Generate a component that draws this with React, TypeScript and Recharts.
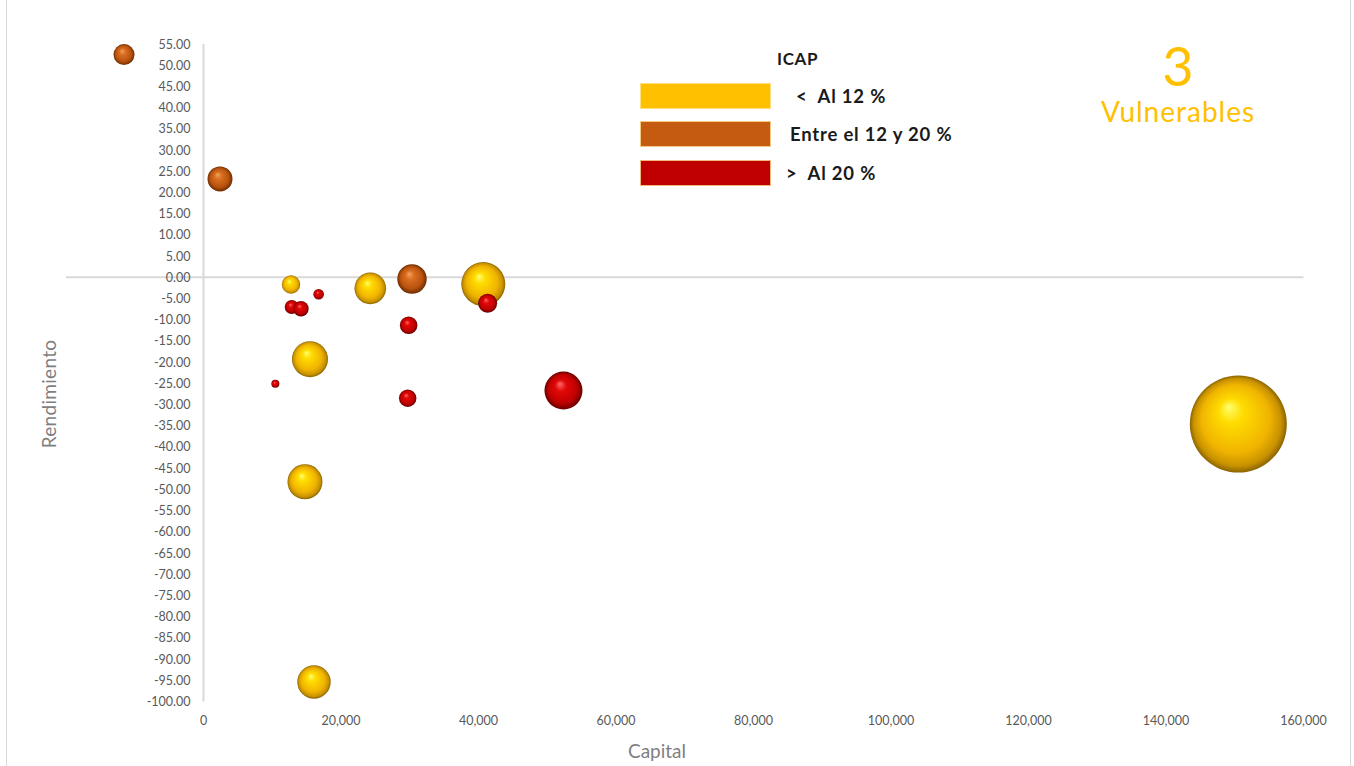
import React from 'react'
import { ScatterChart, Scatter, XAxis, YAxis, ZAxis, ReferenceLine } from 'recharts'

// Capital / Rendimiento / tamaño de burbuja por grupo ICAP
const bajoCapital = [12730, 15490, 24260, 40700, 14760, 16070, 150520]
const bajoRend = [-1.7, -19.3, -2.6, -1.6, -48.2, -95.4, -34.6]
const bajoSize = [85, 324, 250, 484, 306, 279, 2352]

const medioCapital = [-11560, 2400, 30330]
const medioRend = [52.5, 23.2, -0.4]
const medioSize = [110, 156, 216]

const altoCapital = [12830, 14180, 16750, 10450, 29840, 29700, 41330, 52360]
const altoRend = [-7.0, -7.4, -4.0, -25.1, -11.3, -28.5, -6.1, -26.7]
const altoSize = [49, 59, 28, 16, 77, 76, 90, 361]

const xTicks = [-20000, 0, 20000, 40000, 60000, 80000, 100000, 120000, 140000, 160000]
const yTicks = Array.from({ length: 32 }, (_, i) => 55 - i * 5)

const legendItems = [
  { label: '<  Al 12 %', color: '#FFC000', indent: 25 },
  { label: 'Entre el 12 y 20 %', color: '#C55A11', indent: 19 },
  { label: '>  Al 20 %', color: '#C00000', indent: 15 },
]

const build = (xs: number[], ys: number[], zs: number[]) =>
  xs.map((x, i) => ({ capital: x, rendimiento: ys[i], size: zs[i] }))

const W = 1354
const H = 766
const M = { top: 44, right: 50.5, bottom: 34.5, left: 65 }
const X_MIN = -20000
const X_MAX = 160000
// y axis crosses at capital = 0
const ZERO_X = M.left + 1 + ((0 - X_MIN) / (X_MAX - X_MIN)) * (W - M.left - 1 - M.right)

const FONT = 'Lato, "Open Sans", sans-serif'

const sphere = (id: string) => (props: any) => (
  <circle cx={props.cx} cy={props.cy} r={props.width / 2} fill={`url(#${id})`} />
)

const YTick = ({ y, payload }: any) => (
  <text x={ZERO_X - 13} y={y} textAnchor="end" dominantBaseline="central"
    fontSize={12.5} fill="#595959" fontFamily={FONT}>
    {payload.value.toFixed(2)}
  </text>
)

export default function App() {
  return (
    <div style={{ position: 'absolute', left: 0, top: 0, width: W, height: H, background: '#fff', fontFamily: FONT }}>
      <div style={{ position: 'absolute', left: 6, top: 0, width: 1343, height: H, borderLeft: '1px solid #d9d9d9', borderRight: '1px solid #d9d9d9' }} />
      <ScatterChart width={W} height={H} margin={M}>
        <defs>
          <radialGradient id="sph-y" cx="50%" cy="50%" r="50%" fx="40%" fy="32%">
            <stop offset="0%" stopColor="#FFFF70" />
            <stop offset="25%" stopColor="#FFDC00" />
            <stop offset="70%" stopColor="#F0B400" />
            <stop offset="90%" stopColor="#C89200" />
            <stop offset="100%" stopColor="#8A6400" />
          </radialGradient>
          <radialGradient id="sph-o" cx="50%" cy="50%" r="50%" fx="40%" fy="32%">
            <stop offset="0%" stopColor="#F8A060" />
            <stop offset="30%" stopColor="#D86E20" />
            <stop offset="75%" stopColor="#B8520E" />
            <stop offset="100%" stopColor="#6E2C00" />
          </radialGradient>
          <radialGradient id="sph-r" cx="50%" cy="50%" r="50%" fx="40%" fy="32%">
            <stop offset="0%" stopColor="#FF6A6A" />
            <stop offset="30%" stopColor="#E00808" />
            <stop offset="75%" stopColor="#C00000" />
            <stop offset="100%" stopColor="#680000" />
          </radialGradient>
        </defs>
        <XAxis type="number" dataKey="capital" domain={[X_MIN, X_MAX]} ticks={xTicks}
          axisLine={false} tickLine={false} tickMargin={9} height={30}
          tick={{ fontSize: 12.5, fill: '#595959', fontFamily: FONT }}
          tickFormatter={(v: number) => (v < 0 ? '' : v.toLocaleString('en-US'))} />
        <YAxis type="number" dataKey="rendimiento" domain={[-100, 55]} ticks={yTicks}
          axisLine={false} tickLine={false} width={1} tick={<YTick />} interval={0} />
        <ZAxis type="number" dataKey="size" domain={[0, 2352]} range={[0, Math.PI * 2352]} />
        <ReferenceLine y={0} stroke="#d9d9d9" strokeWidth={2} />
        <ReferenceLine x={0} stroke="#d9d9d9" strokeWidth={2} />
        <Scatter data={build(bajoCapital, bajoRend, bajoSize)} shape={sphere('sph-y')} isAnimationActive={false} />
        <Scatter data={build(medioCapital, medioRend, medioSize)} shape={sphere('sph-o')} isAnimationActive={false} />
        <Scatter data={build(altoCapital, altoRend, altoSize)} shape={sphere('sph-r')} isAnimationActive={false} />
      </ScatterChart>

      <div style={{ position: 'absolute', left: 0, top: 740, width: 1314, textAlign: 'center', fontSize: 19, color: '#7f7f7f', lineHeight: '22px' }}>Capital</div>
      <div style={{ position: 'absolute', left: 48, top: 394, transform: 'translate(-50%, -50%) rotate(-90deg)', fontSize: 19, color: '#7f7f7f', whiteSpace: 'nowrap', letterSpacing: 0.3 }}>Rendimiento</div>

      {/* leyenda ICAP */}
      <div style={{ position: 'absolute', left: 777, top: 48, fontSize: 17, fontWeight: 700, color: '#1a1a1a', lineHeight: '22px', letterSpacing: 0.6 }}>ICAP</div>
      {legendItems.map((it, i) => (
        <div key={it.label} style={{ position: 'absolute', left: 640, top: 83 + i * 38.5, height: 25, display: 'flex', alignItems: 'center' }}>
          <div style={{ width: 129, height: 24, background: it.color, border: '1px solid rgba(255,230,160,0.8)' }} />
          <span style={{ marginLeft: it.indent, fontSize: 18.5, fontWeight: 700, color: '#1a1a1a', whiteSpace: 'pre', letterSpacing: 0.8 }}>{it.label}</span>
        </div>
      ))}

      <div style={{ position: 'absolute', left: 1078, top: 39, width: 200, textAlign: 'center', color: '#FFC000', fontSize: 54, lineHeight: '54px' }}>3</div>
      <div style={{ position: 'absolute', left: 1078, top: 97, width: 200, textAlign: 'center', color: '#FFC000', fontSize: 28, lineHeight: '28px', letterSpacing: 1 }}>Vulnerables</div>
    </div>
  )
}
